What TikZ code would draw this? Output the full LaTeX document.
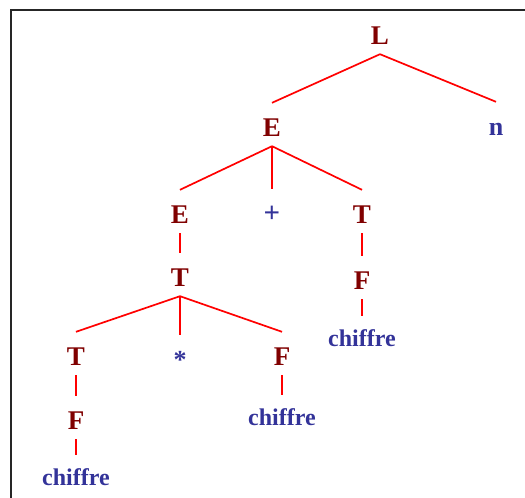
\documentclass[tikz,border=0pt]{standalone}
\usepackage{fontspec}
\setmainfont{Liberation Serif}
\definecolor{ntred}{RGB}{128,0,0}
\definecolor{tblue}{RGB}{51,51,153}
\tikzset{
  sym/.style={anchor=base, inner sep=0pt, text height=33pt, text depth=10pt, font=\bfseries},
  nterm/.style={sym, text=ntred, font=\bfseries\fontsize{27}{27}\selectfont},
  term/.style={sym, text=tblue, font=\bfseries\fontsize{26}{26}\selectfont},
  word/.style={sym, text=tblue, text height=30pt, font=\bfseries\fontsize{24}{24}\selectfont},
  branch/.style={draw=red, line width=1.7pt}
}
\begin{document}
\begin{tikzpicture}[x=1pt,y=-1pt]
  \useasboundingbox (0,0) rectangle (525,498);
  % frame
  \draw[line width=1.3pt, draw=black!85] (525,10) -- (11,10) -- (11,498);

  % symbols of the derivation tree
  \node[nterm] (L)   at (380,44)  {L};
  \node[nterm] (E1)  at (272,136) {E};
  \node[term]  (n)   at (496,135) {n};
  \node[nterm] (E2)  at (180,223) {E};
  \node[term, font=\bfseries\fontsize{29}{29}\selectfont] (plus) at (272,222) {+};
  \node[nterm] (T1)  at (362,223) {T};
  \node[nterm] (T2)  at (180,286) {T};
  \node[nterm] (F1)  at (362,289) {F};
  \node[word]  (c1)  at (362,346) {chiffre};
  \node[nterm] (T3)  at (76,365)  {T};
  \node[term]  (star) at (180,368) {*};
  \node[nterm] (F2)  at (282,365) {F};
  \node[word]  (c2)  at (282,425) {chiffre};
  \node[nterm] (F3)  at (76,429)  {F};
  \node[word]  (c3)  at (76,485)  {chiffre};

  % branches
  \draw[branch] (L.south) -- (E1.north);
  \draw[branch] (L.south) -- (n.north);
  \draw[branch] (E1.south) -- (E2.north);
  \draw[branch] (E1.south) -- (plus.north);
  \draw[branch] (E1.south) -- (T1.north);
  \draw[branch] (E2.south) -- (T2.north);
  \draw[branch] (T1.south) -- (F1.north);
  \draw[branch] (F1.south) -- (c1.north);
  \draw[branch] (T2.south) -- (T3.north);
  \draw[branch] (T2.south) -- (star.north);
  \draw[branch] (T2.south) -- (F2.north);
  \draw[branch] (F2.south) -- (c2.north);
  \draw[branch] (T3.south) -- (F3.north);
  \draw[branch] (F3.south) -- (c3.north);
\end{tikzpicture}
\end{document}
